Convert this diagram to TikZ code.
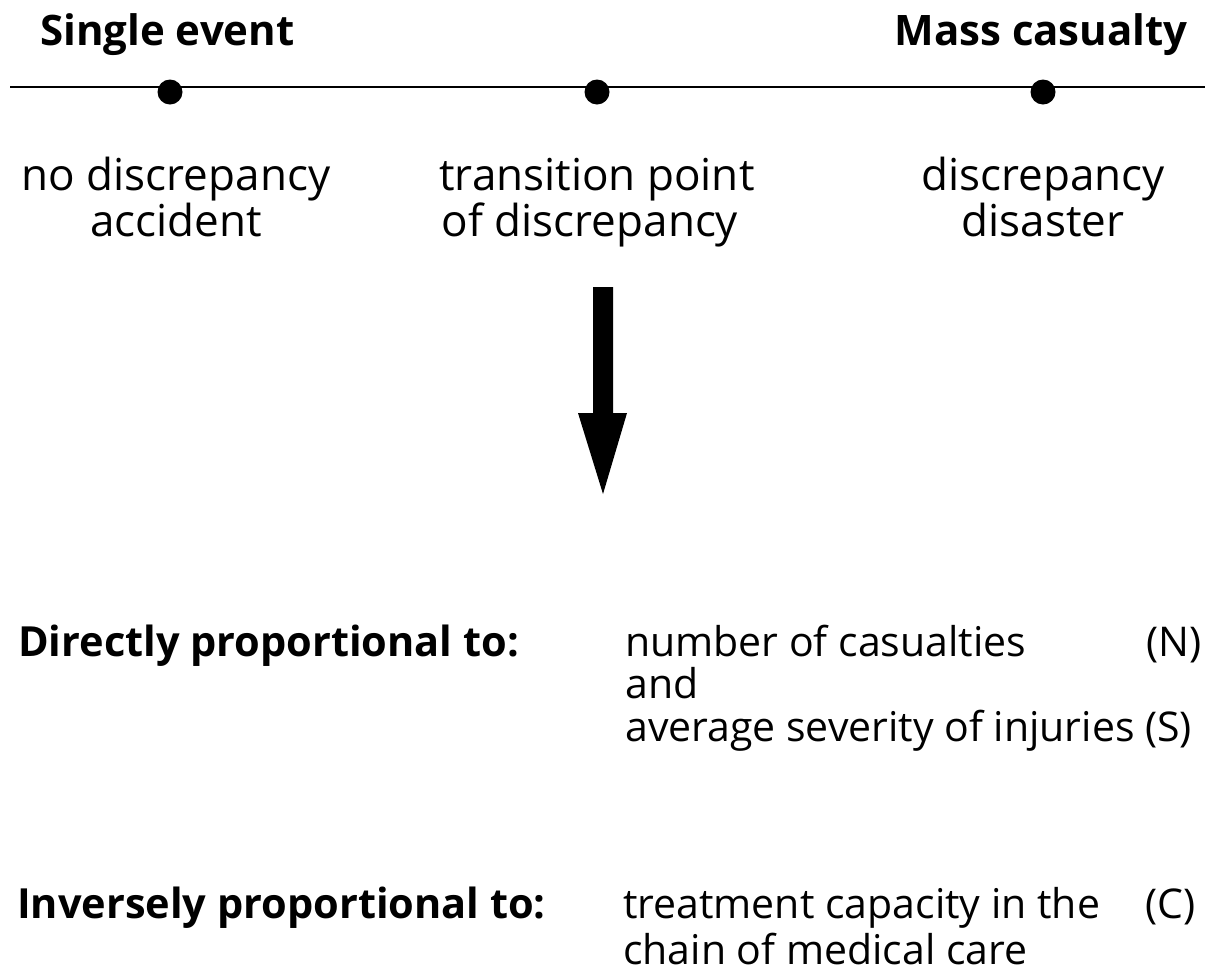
\documentclass[tikz,border=0pt]{standalone}
\usepackage{fontspec}
\setmainfont{Open Sans}
\begin{document}
\begin{tikzpicture}[x=1pt,y=-1pt,
  toplbl/.style={font=\fontsize{42}{46}\selectfont\bfseries, inner sep=0pt},
  lbl/.style={font=\fontsize{44}{48}\selectfont, inner sep=0pt, anchor=base},
  head/.style={font=\fontsize{41.5}{46}\selectfont\bfseries, inner sep=0pt, anchor=base west},
  body/.style={font=\fontsize{41}{46}\selectfont, inner sep=0pt, anchor=base west},
  dot/.style={circle, fill=black, inner sep=0pt, minimum size=25pt},
  axis/.style={line width=2.2pt}]
\useasboundingbox (0,0) rectangle (1205,978);
% top labels
\node[toplbl, anchor=base west] (single) at (40,45) {Single event};
\node[toplbl, anchor=base east] (mass) at (1188,45) {Mass casualty};
% axis
\coordinate (axL) at (10,87);
\coordinate (axR) at (1205,87);
\draw[axis] (axL) -- (axR);
\node[dot] (d1) at (170,92) {};
\node[dot] (d2) at (597,92) {};
\node[dot] (d3) at (1043,92) {};
% point labels
\node[lbl] (l1a) at (176,190) {no discrepancy};
\node[lbl] (l1b) at (176,236) {accident};
\node[lbl] (l2a) at (597,190) {transition point};
\node[lbl] (l2b) at (590,236) {of discrepancy};
\node[lbl] (l3a) at (1043,190) {discrepancy};
\node[lbl] (l3b) at (1043,236) {disaster};
% big arrow
\fill (593,287) -- (613,287) -- (613,413) -- (627,413) -- (603,494) -- (578,413) -- (593,413) -- cycle;
% bottom block
\node[head] (dir) at (18,656) {Directly proportional to:};
\node[body] (n1) at (625,656) {number of casualties};
\node[body, anchor=base east] (nN) at (1202,656) {(N)};
\node[body] (n2) at (625,698) {and};
\node[body] (n3) at (625,741) {average severity of injuries (S)};
\node[head] (inv) at (17,918) {Inversely proportional to:};
\node[body] (c1) at (623,918) {treatment capacity in the};
\node[body, anchor=base east] (cC) at (1196,918) {(C)};
\node[body] (c2) at (623,964) {chain of medical care};
\end{tikzpicture}
\end{document}
